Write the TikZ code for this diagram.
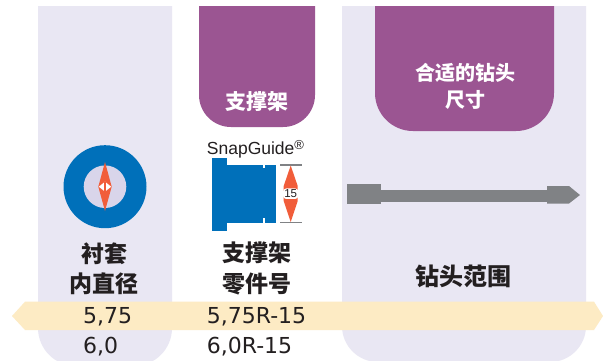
\documentclass[tikz,border=0pt]{standalone}
\usepackage{fontspec}
\setmainfont{DejaVu Sans}
\newfontfamily\cjk{Noto Sans CJK SC}
\newfontfamily\arialf{Liberation Sans}
\definecolor{lav}{HTML}{E9E7F3}
\definecolor{purp}{HTML}{9B5592}
\definecolor{bblue}{HTML}{0070BA}
\definecolor{rred}{HTML}{F15D3A}
\definecolor{innerc}{HTML}{D9D5EA}
\definecolor{ggrey}{HTML}{808285}
\definecolor{band}{HTML}{FDEBC4}
\definecolor{txt}{HTML}{231F20}
\begin{document}
\begin{tikzpicture}[x=1pt,y=-1pt,
  cn/.style={font=\cjk\bfseries\fontsize{23}{30.7}\selectfont, text=txt, align=center, inner sep=0},
  tabtext/.style={font=\cjk\bfseries\fontsize{21}{26.7}\selectfont, text=white, align=center, inner sep=0},
  num/.style={font=\fontsize{22}{26}\selectfont, text=txt, anchor=base west, inner sep=0}]
\useasboundingbox (0,0) rectangle (603,360);
\fill[white] (0,0) rectangle (603,360);
% columns and tabs
\begin{scope}
  \clip (0,6) rectangle (603,400);
  \fill[lav, rounded corners=38] (38,-60) rectangle (172,366);
  \fill[lav, rounded corners=36] (342,-60) rectangle (586,362);
  \fill[purp, rounded corners=32] (199,-60) rectangle (315,127);
  \fill[purp, rounded corners=38] (375,-60) rectangle (554,131);
\end{scope}
\node[tabtext] (tab1) at (257,101.7) {支撑架};
\node[tabtext, font=\cjk\bfseries\fontsize{20}{26.7}\selectfont] (tab2) at (465,86.7) {合适的钻头\\尺寸};
% bushing
\fill[bblue] (105,186.7) circle[radius=41.5];
\fill[innerc] (105,186.7) circle[radius=21.3];
\fill[rred] (105,162) -- (111.7,186.7) -- (105,211) -- (98.3,186.7) -- cycle;
\fill[white] (105,181.7) -- (111.2,186.7) -- (105,191.7) -- (98.8,186.7) -- cycle;
\draw[rred, line width=1.2pt] (105,181.7) -- (105,191.7);
% SnapGuide
\node[font=\arialf\fontsize{17.5}{20}\selectfont, text=txt, anchor=base west, inner sep=0] (sg) at (206.7,154) {SnapGuide\raisebox{4.5pt}{\fontsize{13}{14}\selectfont ®}};
\fill[bblue] (212.3,158.3) rectangle (226.7,230.7);
\fill[bblue] (226.2,165) rectangle (275.7,222.7);
\fill[white] (263,165) rectangle (264.6,168.3);
\fill[white] (263,218.3) rectangle (264.6,222.7);
\draw[ggrey, line width=1.3pt] (280,165) -- (301.7,165);
\draw[ggrey, line width=1.3pt] (280,222.7) -- (301.7,222.7);
\fill[rred] (290.7,165.5) -- (297.7,186) -- (297.7,201) -- (290.7,222) -- (283.7,201) -- (283.7,186) -- cycle;
\node[fill=white, rounded corners=3pt, inner sep=1.2pt, minimum width=15pt, font=\arialf\fontsize{11.5}{12}\selectfont, text=txt] (dim) at (290.7,193.7) {15};
% drill bit
\fill[ggrey] (346.7,183.7) rectangle (381,203.7);
\fill[ggrey] (380.5,190) rectangle (548,201.5);
\fill[ggrey] (547,186) -- (569,186) -- (580,195) -- (569,203.5) -- (547,203.5) -- cycle;
% labels
\node[cn] (l1) at (104.2,268.7) {衬套\\内直径};
\node[cn] (l2) at (256.7,268.7) {支撑架\\零件号};
\node[cn, font=\cjk\bfseries\fontsize{24}{30}\selectfont] (l3) at (463,276) {钻头范围};
% band
\fill[band] (25,301.7) -- (594,301.7) -- (603,316) -- (594,330) -- (25,330) -- (12,316) -- cycle;
\node[num] (a1) at (83,323.8) {5,75};
\node[num] (a2) at (83,353.5) {6,0};
\node[num] (b1) at (206.7,323.8) {5,75R-15};
\node[num] (b2) at (206.7,353.5) {6,0R-15};
\end{tikzpicture}
\end{document}
